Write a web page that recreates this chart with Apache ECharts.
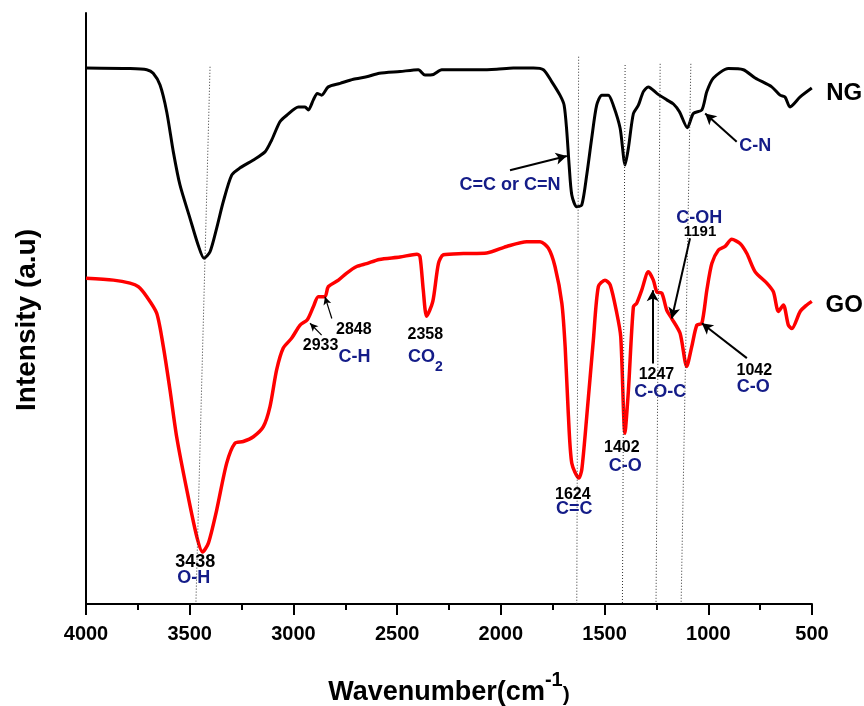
<!DOCTYPE html>
<html>
<head>
<meta charset="utf-8">
<script src="https://cdn.jsdelivr.net/npm/echarts@6/dist/echarts.min.js"></script>
<style>
  html, body { margin: 0; padding: 0; background: #ffffff; }
  #chart { width: 864px; height: 706px; }
</style>
</head>
<body>
<div id="chart"></div>
<script>
// FTIR spectra of nitrogen-doped graphene (NG) and graphene oxide (GO)
const ngWavenumber = [
  4000, 3788, 3707, 3676, 3643, 3611, 3579, 3547, 3499, 3459,
  3431, 3402, 3370, 3338, 3297, 3257, 3195, 3137, 3105, 3065,
  3032, 2976, 2944, 2928, 2904, 2885, 2864, 2832, 2775, 2711,
  2647, 2586, 2486, 2398, 2366, 2325, 2285, 2181, 2100, 2020,
  1940, 1843, 1795, 1755, 1715, 1695, 1682, 1671, 1658, 1634,
  1610, 1586, 1562, 1538, 1513, 1482, 1458, 1425, 1401, 1385,
  1361, 1337, 1313, 1289, 1248, 1200, 1168, 1139, 1101, 1072,
  1031, 1007, 975, 903, 831, 774, 694, 654, 630, 606,
  557, 501
];
const ngIntensity = [
  90.7, 90.6, 90.4, 89.8, 87.8, 83.3, 76.5, 70.9, 65.3, 60.7,
  58.5, 59.6, 63.6, 68.1, 72.6, 73.8, 75.1, 76.5, 78.5, 81.6,
  82.7, 84.1, 84.1, 83.6, 85.3, 86.4, 86.1, 87.5, 88.1, 88.8,
  89.2, 89.8, 90.1, 90.4, 89.5, 89.6, 90.4, 90.4, 90.4, 90.5,
  90.7, 90.7, 90.4, 88.4, 86.1, 84.4, 79.9, 74.3, 69.2, 67.2,
  67.5, 72.6, 78.8, 84.4, 86.1, 86.1, 84.4, 80.5, 74.3, 77.2,
  83.0, 84.4, 86.7, 87.5, 86.4, 85.3, 84.6, 83.3, 80.6, 83.0,
  83.6, 86.7, 89.0, 90.6, 90.4, 89.0, 87.5, 86.1, 85.8, 84.1,
  85.8, 87.3
];
const goWavenumber = [
  4000, 3868, 3788, 3748, 3707, 3659, 3627, 3595, 3563, 3514,
  3466, 3438, 3410, 3370, 3322, 3282, 3242, 3193, 3145, 3113,
  3081, 3049, 3008, 2968, 2933, 2904, 2880, 2848, 2832, 2783,
  2743, 2695, 2647, 2586, 2486, 2405, 2390, 2374, 2358, 2328,
  2301, 2277, 2181, 2068, 1972, 1875, 1811, 1771, 1739, 1706,
  1690, 1675, 1658, 1624, 1610, 1586, 1554, 1530, 1498, 1473,
  1441, 1422, 1402, 1385, 1361, 1345, 1321, 1289, 1265, 1248,
  1224, 1200, 1176, 1136, 1104, 1080, 1055, 1031, 1007, 983,
  951, 919, 887, 847, 814, 774, 718, 686, 662, 638,
  614, 597, 557, 525, 501
];
const goIntensity = [
  55.1, 54.8, 54.3, 53.7, 52.0, 49.2, 43.5, 36.2, 28.3, 19.3,
  11.4, 8.8, 10.3, 15.9, 23.8, 27.2, 27.5, 28.3, 30.0, 33.4,
  39.6, 43.3, 45.0, 47.2, 48.1, 50.3, 52.0, 52.0, 53.7, 54.8,
  56.0, 57.1, 57.6, 58.3, 58.7, 59.2, 58.8, 53.1, 48.7, 51.2,
  57.6, 59.1, 59.3, 59.4, 60.5, 61.3, 61.3, 60.2, 57.1, 50.9,
  43.5, 32.3, 23.8, 21.3, 22.7, 31.7, 44.7, 53.7, 54.8, 54.0,
  49.2, 45.2, 28.9, 36.2, 50.3, 50.9, 53.1, 56.2, 54.8, 52.8,
  52.6, 49.7, 48.3, 45.8, 40.2, 43.5, 47.2, 47.5, 53.1, 57.6,
  59.9, 60.5, 61.7, 61.0, 59.3, 56.2, 54.3, 52.8, 49.5, 50.6,
  47.2, 46.6, 49.5, 50.6, 51.2
];

// Sample names written at the right-hand end of each trace
const sampleNames = ['NG', 'GO'];

// Peak positions printed next to the GO bands
const peakNumbers = ['3438', '2933', '2848', '2358', '1624', '1402', '1247', '1191', '1042'];
// Functional-group assignments
const groupNames = ['O-H', 'C-H', 'CO2', 'C=C', 'C-O', 'C-O-C', 'C-OH', 'C-O', 'C=C or C=N', 'C-N'];

// Where each text sits, in axis units [wavenumber, intensity], plus font size
const sampleNamePlace = [[345, 86.7], [345, 50.8]];
const peakNumberPlace = [
  [3473, 7.4, 18], [2869, 44.0, 16], [2709, 46.7, 16], [2364, 46.0, 16], [1653, 18.9, 16],
  [1417, 26.8, 16], [1250, 39.1, 16], [1040, 63.3, 15], [778, 39.8, 16]
];
const groupNamePlace = [
  [3481, 4.8], [2706, 42.2], [2364, 42.1], [1646, 16.4], [1400, 23.6],
  [1232, 36.2], [1044, 65.7], [783, 37.1], [1956, 71.2], [774, 77.8]
];

// Arrows from a label to its band: [tail, head, line width]
const arrowPaths = [
  [[1956, 73.4], [1682, 75.8], 2],
  [[863, 78.2], [1015, 83.0], 2],
  [[2864, 45.5], [2920, 47.5], 1.2],
  [[2815, 48.3], [2848, 52.0], 1.2],
  [[1268, 40.7], [1268, 53.1], 2],
  [[1088, 61.9], [1176, 48.3], 2],
  [[814, 41.6], [1031, 47.5], 2]
];
// Dotted guides linking the bands of the two spectra
const guidePaths = [
  [[3402, 90.9], [3470, 0.3]],
  [[1625, 92.6], [1634, 0]],
  [[1401, 91.2], [1414, 0]],
  [[1232, 91.4], [1252, 0]],
  [[1084, 91.4], [1131, 0]]
];

const FONT = "'Liberation Sans', Arial, sans-serif";
const NAVY = '#141c88';

const pair = (xs, ys) => xs.map((x, i) => [x, ys[i]]);

const annotationData = [];
sampleNames.forEach((t, i) => {
  const p = sampleNamePlace[i];
  annotationData.push({
    value: [p[0], p[1]],
    label: { formatter: t, fontSize: 24, color: '#000' }
  });
});
peakNumbers.forEach((t, i) => {
  const p = peakNumberPlace[i];
  annotationData.push({
    value: [p[0], p[1]],
    label: { formatter: t, fontSize: p[2], color: '#000' }
  });
});
groupNames.forEach((t, i) => {
  const p = groupNamePlace[i];
  const isCO2 = t === 'CO2';
  annotationData.push({
    value: [p[0], p[1]],
    label: isCO2 ? {
      formatter: '{a|CO}{s|2}',
      rich: {
        a: { fontSize: 18, fontWeight: 'bold', color: NAVY, fontFamily: FONT, lineHeight: 34 },
        s: { fontSize: 14, fontWeight: 'bold', color: NAVY, fontFamily: FONT, lineHeight: 14, verticalAlign: 'bottom' }
      }
    } : { formatter: t, fontSize: 18, color: NAVY }
  });
});

const chart = echarts.init(document.getElementById('chart'), null, { renderer: 'canvas' });

chart.setOption({
  animation: false,
  backgroundColor: '#ffffff',
  grid: { left: 86, top: 13, width: 726, height: 591, containLabel: false, outerBoundsMode: 'none' },
  xAxis: {
    type: 'value',
    inverse: true,
    min: 500,
    max: 4000,
    interval: 500,
    name: '{a|Wavenumber(cm}{b|-1}{c|)}',
    nameLocation: 'middle',
    nameGap: 66,
    nameTextStyle: {
      rich: {
        a: { fontSize: 27, fontWeight: 'bold', color: '#000', fontFamily: FONT, lineHeight: 45 },
        b: { fontSize: 20, fontWeight: 'bold', color: '#000', fontFamily: FONT, lineHeight: 20, verticalAlign: 'top' },
        c: { fontSize: 21, fontWeight: 'bold', color: '#000', fontFamily: FONT, lineHeight: 21, verticalAlign: 'middle', padding: [6, 0, 0, 0] }
      }
    },
    axisLine: { show: true, lineStyle: { color: '#000', width: 2 } },
    axisTick: { show: true, length: 11, lineStyle: { color: '#000', width: 2 } },
    minorTick: { show: true, splitNumber: 2, length: 6, lineStyle: { color: '#000', width: 2 } },
    splitLine: { show: false },
    axisLabel: {
      fontSize: 20, fontWeight: 'bold', color: '#000', fontFamily: FONT, margin: 20,
      formatter: v => String(v)
    }
  },
  yAxis: {
    type: 'value',
    min: 0,
    max: 100,
    axisLine: { show: true, lineStyle: { color: '#000', width: 2 } },
    axisTick: { show: false },
    axisLabel: { show: false },
    splitLine: { show: false }
  },
  graphic: [{
    type: 'text',
    x: 27,
    y: 320,
    rotation: Math.PI / 2,
    style: {
      text: 'Intensity (a.u)',
      font: 'bold 28px ' + FONT,
      fill: '#000',
      align: 'center',
      verticalAlign: 'middle',
      textAlign: 'center',
      textVerticalAlign: 'middle'
    }
  }],
  series: [
    {
      name: 'NG',
      type: 'line',
      data: pair(ngWavenumber, ngIntensity),
      showSymbol: false,
      symbol: 'none',
      smooth: 0.25,
      lineStyle: { color: '#000', width: 3 },
      itemStyle: { color: '#000' },
      silent: true,
      z: 3,
      markLine: {
        silent: true,
        animation: false,
        symbol: 'none',
        label: { show: false },
        emphasis: { disabled: true },
        lineStyle: { color: '#333', width: 1, type: [1, 2] },
        data: guidePaths.map(g => [{ coord: g[0] }, { coord: g[1] }])
      }
    },
    {
      name: 'GO',
      type: 'line',
      data: pair(goWavenumber, goIntensity),
      showSymbol: false,
      symbol: 'none',
      smooth: 0.25,
      lineStyle: { color: '#ff0000', width: 3.5 },
      itemStyle: { color: '#ff0000' },
      silent: true,
      z: 3
    },
    {
      name: 'annotations',
      type: 'scatter',
      symbolSize: 1,
      itemStyle: { color: 'rgba(0,0,0,0)', opacity: 1 },
      clip: false,
      silent: true,
      z: 5,
      label: {
        show: true,
        position: 'inside',
        offset: [0, 2],
        fontWeight: 'bold',
        fontFamily: FONT,
        opacity: 1
      },
      data: annotationData,
      markLine: {
        silent: true,
        animation: false,
        symbol: ['none', 'arrow'],
        symbolSize: [9, 11],
        label: { show: false },
        emphasis: { disabled: true },
        data: arrowPaths.map(a => [
          { coord: a[0], lineStyle: { color: '#000', width: a[2], type: 'solid', opacity: 1 },
            symbolSize: a[2] < 1.5 ? [6, 8] : [9, 11] },
          { coord: a[1], symbolSize: a[2] < 1.5 ? [6, 8] : [9, 11] }
        ])
      }
    }
  ]
});
</script>
</body>
</html>
